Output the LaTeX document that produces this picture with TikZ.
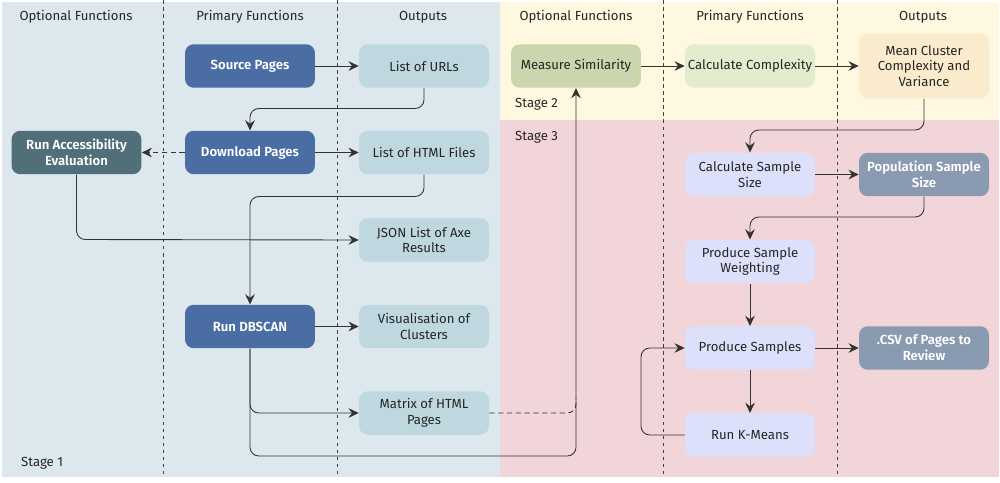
\documentclass[tikz,border=0pt]{standalone}
\usepackage{fontspec}
\setmainfont{Fira Sans}[BoldFont={Fira Sans SemiBold}]
\usetikzlibrary{arrows.meta}
\definecolor{bgone}{HTML}{DCE8EE}
\definecolor{bgtwo}{HTML}{FEF8E0}
\definecolor{bgthree}{HTML}{F1D5D9}
\definecolor{primblue}{HTML}{4A6DA3}
\definecolor{outblue}{HTML}{BFD7DF}
\definecolor{acctea}{HTML}{516F78}
\definecolor{simgreen}{HTML}{CCD6AE}
\definecolor{cmpgreen}{HTML}{E4ECCE}
\definecolor{meanorg}{HTML}{FBEBCD}
\definecolor{lav}{HTML}{DDE0FA}
\definecolor{greyblue}{HTML}{8A9AB0}
\definecolor{linec}{HTML}{333333}
\tikzset{
  box/.style={rounded corners=5, minimum width=2.6cm, minimum height=0.87cm, align=center,
    font=\fontsize{7.5}{9}\selectfont, inner sep=1pt},
  boxtall/.style={box, minimum height=1.3cm},
  pbox/.style={box, fill=primblue, text=white, font=\fontsize{7.5}{9}\selectfont\bfseries},
  obox/.style={box, fill=outblue, text=black!85},
  abox/.style={box, fill=acctea, text=white, font=\fontsize{7.5}{9}\selectfont\bfseries},
  gbox/.style={box, fill=greyblue, text=white, font=\fontsize{7.5}{9}\selectfont\bfseries},
  lbox/.style={box, fill=lav, text=black!85},
  hdr/.style={font=\fontsize{7.5}{9}\selectfont, text=black!85},
  conn/.style={draw=linec, line width=0.5pt, rounded corners=5, -{Stealth[length=5.8pt,width=5.5pt,inset=2pt]}},
  sep/.style={draw=black!75, dashed, line width=0.55pt, dash pattern=on 2pt off 2pt},
}
\begin{document}
\begin{tikzpicture}[x=0.02cm, y=-0.02cm]
\useasboundingbox (0,0) rectangle (1000,483);
% backgrounds
\fill[bgone] (2,2) rectangle (500,477);
\fill[bgtwo] (500,2) rectangle (999,120);
\fill[bgthree] (500,120) rectangle (999,477);
% separators
\foreach \xx in {163,337,663,837} \draw[sep] (\xx,0) -- (\xx,477);
% headers
\node[hdr] (h1) at (76,17) {Optional Functions};
\node[hdr] (h2) at (250,17) {Primary Functions};
\node[hdr] (h3) at (423,17) {Outputs};
\node[hdr] (h4) at (576,17) {Optional Functions};
\node[hdr] (h5) at (750,17) {Primary Functions};
\node[hdr] (h6) at (923,17) {Outputs};
% stage labels
\node[hdr, anchor=west] (s1) at (15,463) {Stage 1};
\node[hdr, anchor=west] (s2) at (509,104.5) {Stage 2};
\node[hdr, anchor=west] (s3) at (509,137.5) {Stage 3};
% stage 1 nodes
\node[pbox] (src) at (250,66) {Source Pages};
\node[obox] (urls) at (424,66) {List of URLs};
\node[abox] (acc) at (76.5,152.5) {Run Accessibility\\Evaluation};
\node[pbox] (dl) at (250,152.5) {Download Pages};
\node[obox] (html) at (424,152.5) {List of HTML Files};
\node[obox] (json) at (424,240) {JSON List of Axe\\Results};
\node[pbox] (dbs) at (250,326.5) {Run DBSCAN};
\node[obox] (vis) at (424,326.5) {Visualisation of\\Clusters};
\node[obox] (mat) at (424,413) {Matrix of HTML\\Pages};
% stage 2 nodes
\node[box, fill=simgreen, text=black!85] (sim) at (576,66) {Measure Similarity};
\node[box, fill=cmpgreen, text=black!85] (cmp) at (750,66) {Calculate Complexity};
\node[boxtall, fill=meanorg, text=black!85] (mean) at (924,66) {Mean Cluster\\Complexity and\\Variance};
% stage 3 nodes
\node[lbox] (css) at (750,174.5) {Calculate Sample\\Size};
\node[gbox] (pop) at (924,174.5) {Population Sample\\Size};
\node[lbox] (psw) at (750,261.5) {Produce Sample\\Weighting};
\node[lbox] (ps) at (750,348) {Produce Samples};
\node[gbox] (csv) at (924,348) {.CSV of Pages to\\Review};
\node[lbox] (km) at (750,435) {Run K-Means};
% connectors stage 1
\draw[conn] (src) -- (urls);
\draw[conn] (urls.south) -- (424,108.5) -- (250,108.5) -- (dl.north);
\draw[conn, dashed, dash pattern=on 3pt off 2pt] (dl) -- (acc);
\draw[conn] (dl) -- (html);
\draw[conn] (html.south) -- (424,196.5) -- (250,196.5) -- (dbs.north);
\draw[conn] (acc.south) -- (76.5,239.5) -- (json.west);
\draw[conn] (dbs) -- (vis);
\draw[conn] (dbs.south) -- (250,413) -- (mat.west);
\draw[conn] (dbs.south) -- (250,456) -- (576,456) -- (sim.south);
\coordinate (mj) at (576,398);
\draw[draw=linec, line width=0.5pt, rounded corners=5, dashed, dash pattern=on 3pt off 2pt] (mat.east) -- (576,413) -- (mj);
% connectors stage 2
\draw[conn] (sim) -- (cmp);
\draw[conn] (cmp) -- (mean);
\draw[conn] (mean.south) -- (924,130) -- (750,130) -- (css.north);
% connectors stage 3
\draw[conn] (css) -- (pop);
\draw[conn] (pop.south) -- (924,217) -- (750,217) -- (psw.north);
\draw[conn] (psw) -- (ps);
\draw[conn] (ps) -- (csv);
\draw[conn] (ps) -- (km);
\draw[conn] (km.west) -- (641,435) -- (641,348) -- (ps.west);
\end{tikzpicture}
\end{document}
